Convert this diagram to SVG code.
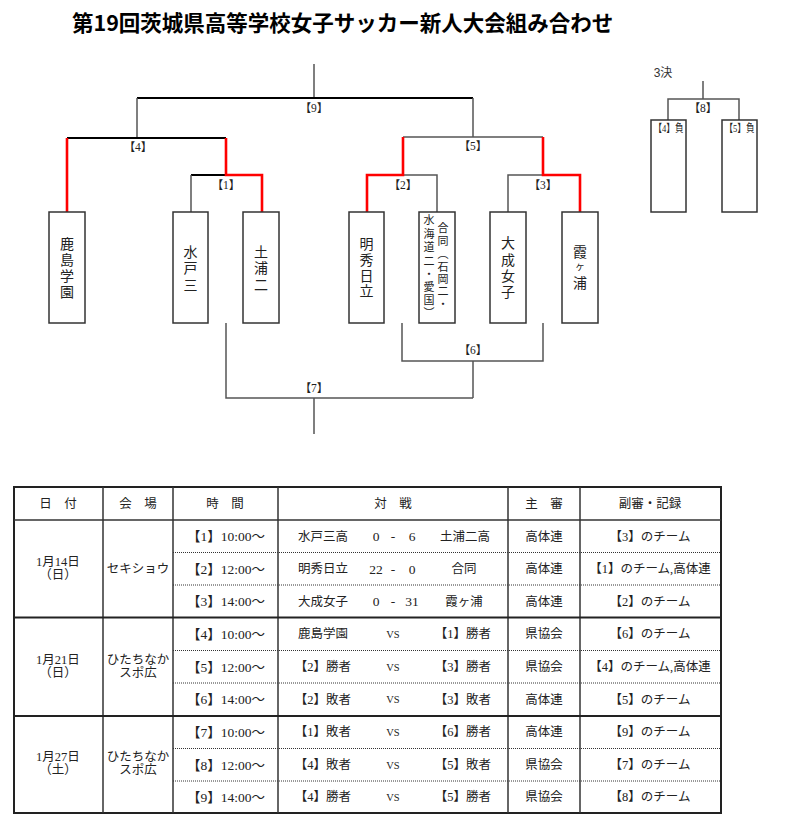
<svg xmlns="http://www.w3.org/2000/svg" width="785" height="835" viewBox="0 0 785 835">
<style>
text{font-family:"Liberation Serif","Noto Sans CJK JP",serif;fill:#222;}
.title{font-family:"Noto Sans CJK JP","Liberation Sans",sans-serif;font-size:21.5px;font-weight:bold;fill:#000;}
.lbl{font-size:11.5px;text-anchor:middle;dominant-baseline:central;}
.team{font-size:14px;text-anchor:middle;dominant-baseline:central;}
.small{font-size:11px;text-anchor:middle;dominant-baseline:central;}
.cell{font-size:12.5px;text-anchor:middle;dominant-baseline:central;}
.time{font-size:13.5px;text-anchor:middle;dominant-baseline:central;}
.num{font-size:13.5px;text-anchor:middle;dominant-baseline:central;}
.vs{font-size:10.5px;text-anchor:middle;dominant-baseline:central;}
.box{fill:#fff;stroke:#333;stroke-width:1.5;}
.blk{stroke:#000;stroke-width:2;fill:none;}
.gry{stroke:#555;stroke-width:1.5;fill:none;}
.red{stroke:#f00;stroke-width:2.6;fill:none;}
.tb{stroke:#222;stroke-width:2;fill:none;}
.tl{stroke:#333;stroke-width:1.5;fill:none;}
.dot{stroke:#333;stroke-width:1;stroke-dasharray:1 1;fill:none;}
</style>
<text class="title" x="72" y="31">第19回茨城県高等学校女子サッカー新人大会組み合わせ</text>

<g id="connectors">
<line class="gry" x1="314" y1="64" x2="314" y2="98"/>
<line class="blk" x1="137" y1="98" x2="473" y2="98"/>
<line class="gry" x1="137" y1="98" x2="137" y2="138"/>
<line class="blk" x1="67" y1="138" x2="226" y2="138"/>
<line class="blk" x1="191" y1="175" x2="226" y2="175"/>
<line class="gry" x1="191" y1="175" x2="191" y2="212"/>
<polyline class="red" points="67,138 67,212"/>
<polyline class="red" points="226,138 226,175 262,175 262,212"/>
<line class="gry" x1="473" y1="98" x2="473" y2="137"/>
<line class="gry" x1="403" y1="137" x2="543" y2="137"/>
<polyline class="gry" points="403,175 437,175 437,212"/>
<polyline class="gry" points="543,175 508,175 508,212"/>
<polyline class="red" points="403,137 403,175 367,175 367,212"/>
<polyline class="red" points="543,137 543,175 580,175 580,212"/>
<polyline class="gry" points="226,323 226,398 473,398"/>
<polyline class="gry" points="402,323 402,361 543,361 543,323"/>
<line class="gry" x1="473" y1="361" x2="473" y2="398"/>
<line class="gry" x1="314" y1="398" x2="314" y2="434"/>
<line class="gry" x1="703" y1="81" x2="703" y2="99"/>
<polyline class="gry" points="668,120 668,99 739,99 739,120"/>
</g>

<g id="labels">
<text class="lbl" x="314" y="108">【9】</text>
<text class="lbl" x="138" y="147">【4】</text>
<text class="lbl" x="226" y="185">【1】</text>
<text class="lbl" x="473" y="146">【5】</text>
<text class="lbl" x="403" y="185">【2】</text>
<text class="lbl" x="543" y="185">【3】</text>
<text class="lbl" x="473" y="350">【6】</text>
<text class="lbl" x="314" y="388">【7】</text>
<text class="lbl" x="703" y="108">【8】</text>
<text x="663" y="73" style="font-family:'Liberation Sans','Noto Sans CJK JP',sans-serif;font-size:12px;fill:#333;text-anchor:middle;dominant-baseline:central;">3決</text>
</g>

<g id="team-kashima">
<rect class="box" x="49" y="212" width="36" height="111"/>
<text class="team"><tspan x="67" y="243.5">鹿</tspan><tspan x="67" y="259.5">島</tspan><tspan x="67" y="275.5">学</tspan><tspan x="67" y="291.5">園</tspan></text>
</g>
<g id="team-mito3">
<rect class="box" x="173" y="212" width="35" height="111"/>
<text class="team"><tspan x="190.5" y="252">水</tspan><tspan x="190.5" y="268">戸</tspan><tspan x="190.5" y="285">三</tspan></text>
</g>
<g id="team-tsuchiura2">
<rect class="box" x="243" y="212" width="36" height="111"/>
<text class="team"><tspan x="261" y="252">土</tspan><tspan x="261" y="268">浦</tspan><tspan x="261" y="285">二</tspan></text>
</g>
<g id="team-meishu">
<rect class="box" x="349" y="212" width="35" height="111"/>
<text class="team"><tspan x="366.5" y="244">明</tspan><tspan x="366.5" y="260">秀</tspan><tspan x="366.5" y="275.5">日</tspan><tspan x="366.5" y="291">立</tspan></text>
</g>
<g id="team-godo">
<rect class="box" x="419" y="212" width="36" height="111"/>
<text class="small"><tspan x="443" y="228">合</tspan><tspan x="443" y="241">同</tspan><tspan x="443" y="254">︵</tspan><tspan x="443" y="267">石</tspan><tspan x="443" y="279">岡</tspan><tspan x="443" y="291">二</tspan><tspan x="443" y="304">・</tspan></text>
<text class="small"><tspan x="429" y="220">水</tspan><tspan x="429" y="234">海</tspan><tspan x="429" y="247">道</tspan><tspan x="429" y="261">二</tspan><tspan x="429" y="274">・</tspan><tspan x="429" y="287">愛</tspan><tspan x="429" y="300">国</tspan><tspan x="429" y="313">︶</tspan></text>
</g>
<g id="team-taisei">
<rect class="box" x="490" y="212" width="36" height="111"/>
<text class="team"><tspan x="508" y="243">大</tspan><tspan x="508" y="259.5">成</tspan><tspan x="508" y="275.5">女</tspan><tspan x="508" y="292">子</tspan></text>
</g>
<g id="team-kasumigaura">
<rect class="box" x="562" y="212" width="36" height="111"/>
<text class="team"><tspan x="580" y="252">霞</tspan><tspan x="580" y="266" style="font-size:10px">ヶ</tspan><tspan x="580" y="283">浦</tspan></text>
</g>
<g id="loser4">
<rect class="box" x="651" y="120" width="35" height="92"/>
<text class="small" x="668.5" y="128" textLength="30" lengthAdjust="spacingAndGlyphs">【4】負</text>
</g>
<g id="loser5">
<rect class="box" x="722" y="120" width="35" height="92"/>
<text class="small" x="739.5" y="128" textLength="30" lengthAdjust="spacingAndGlyphs">【5】負</text>
</g>

<g id="table">
<rect class="tb" x="14" y="487" width="707" height="326"/>
<line class="tl" x1="103" y1="487" x2="103" y2="813"/>
<line class="tl" x1="173" y1="487" x2="173" y2="813"/>
<line class="tl" x1="278" y1="487" x2="278" y2="813"/>
<line class="tl" x1="508" y1="487" x2="508" y2="813"/>
<line class="tl" x1="580" y1="487" x2="580" y2="813"/>
<line class="tl" x1="14" y1="520" x2="721" y2="520"/>
<line class="tb" x1="14" y1="617.5" x2="721" y2="617.5"/>
<line class="tb" x1="14" y1="716" x2="721" y2="716"/>
<line class="dot" x1="173" y1="552.5" x2="721" y2="552.5"/>
<line class="dot" x1="173" y1="585" x2="721" y2="585"/>
<line class="dot" x1="173" y1="650.5" x2="721" y2="650.5"/>
<line class="dot" x1="173" y1="683" x2="721" y2="683"/>
<line class="dot" x1="173" y1="748.5" x2="721" y2="748.5"/>
<line class="dot" x1="173" y1="781" x2="721" y2="781"/>

<text class="cell" x="58" y="503.5">日　付</text>
<text class="cell" x="138" y="503.5">会　場</text>
<text class="cell" x="225" y="503.5">時　間</text>
<text class="cell" x="393" y="503.5">対　戦</text>
<text class="cell" x="544" y="503.5">主　審</text>
<text class="cell" x="650" y="503.5">副審・記録</text>

<text class="cell" x="58" y="562">1月14日</text>
<text class="cell" x="58" y="575">（日）</text>
<text class="cell" x="138" y="568.5">セキショウ</text>
<text class="cell" x="58" y="660">1月21日</text>
<text class="cell" x="58" y="673">（日）</text>
<text class="cell" x="138" y="660">ひたちなか</text>
<text class="cell" x="138" y="673">スポ広</text>
<text class="cell" x="58" y="757">1月27日</text>
<text class="cell" x="58" y="770">（土）</text>
<text class="cell" x="138" y="757">ひたちなか</text>
<text class="cell" x="138" y="770">スポ広</text>

<text class="time" x="226" y="536.5">【1】10:00～</text>
<text class="time" x="226" y="569">【2】12:00～</text>
<text class="time" x="226" y="601.5">【3】14:00～</text>
<text class="time" x="226" y="634">【4】10:00～</text>
<text class="time" x="226" y="667">【5】12:00～</text>
<text class="time" x="226" y="699.5">【6】14:00～</text>
<text class="time" x="226" y="732">【7】10:00～</text>
<text class="time" x="226" y="765">【8】12:00～</text>
<text class="time" x="226" y="797">【9】14:00～</text>

<text class="cell" x="323" y="536.5">水戸三高</text>
<text class="num" x="376" y="536.5">0</text>
<text class="num" x="393" y="536.5">-</text>
<text class="num" x="412" y="536.5">6</text>
<text class="cell" x="465" y="536.5">土浦二高</text>

<text class="cell" x="323" y="569">明秀日立</text>
<text class="num" x="376" y="569">22</text>
<text class="num" x="393" y="569">-</text>
<text class="num" x="412" y="569">0</text>
<text class="cell" x="464" y="569">合同</text>

<text class="cell" x="323" y="601.5">大成女子</text>
<text class="num" x="376" y="601.5">0</text>
<text class="num" x="393" y="601.5">-</text>
<text class="num" x="412" y="601.5">31</text>
<text class="cell" x="464" y="601.5">霞ヶ浦</text>

<text class="cell" x="323" y="634">鹿島学園</text>
<text class="vs" x="393" y="634">VS</text>
<text class="cell" x="463" y="634">【1】勝者</text>
<text class="cell" x="323" y="667">【2】勝者</text>
<text class="vs" x="393" y="667">VS</text>
<text class="cell" x="463" y="667">【3】勝者</text>
<text class="cell" x="323" y="699.5">【2】敗者</text>
<text class="vs" x="393" y="699.5">VS</text>
<text class="cell" x="463" y="699.5">【3】敗者</text>
<text class="cell" x="323" y="732">【1】敗者</text>
<text class="vs" x="393" y="732">VS</text>
<text class="cell" x="463" y="732">【6】勝者</text>
<text class="cell" x="323" y="765">【4】敗者</text>
<text class="vs" x="393" y="765">VS</text>
<text class="cell" x="463" y="765">【5】敗者</text>
<text class="cell" x="323" y="797">【4】勝者</text>
<text class="vs" x="393" y="797">VS</text>
<text class="cell" x="463" y="797">【5】勝者</text>

<text class="cell" x="544" y="536.5">高体連</text>
<text class="cell" x="544" y="569">高体連</text>
<text class="cell" x="544" y="601.5">高体連</text>
<text class="cell" x="544" y="634">県協会</text>
<text class="cell" x="544" y="667">県協会</text>
<text class="cell" x="544" y="699.5">高体連</text>
<text class="cell" x="544" y="732">高体連</text>
<text class="cell" x="544" y="765">県協会</text>
<text class="cell" x="544" y="797">県協会</text>

<text class="cell" x="650" y="536.5">【3】のチーム</text>
<text class="cell" x="650" y="569">【1】のチーム,高体連</text>
<text class="cell" x="650" y="601.5">【2】のチーム</text>
<text class="cell" x="650" y="634">【6】のチーム</text>
<text class="cell" x="650" y="667">【4】のチーム,高体連</text>
<text class="cell" x="650" y="699.5">【5】のチーム</text>
<text class="cell" x="650" y="732">【9】のチーム</text>
<text class="cell" x="650" y="765">【7】のチーム</text>
<text class="cell" x="650" y="797">【8】のチーム</text>
</g>
</svg>
